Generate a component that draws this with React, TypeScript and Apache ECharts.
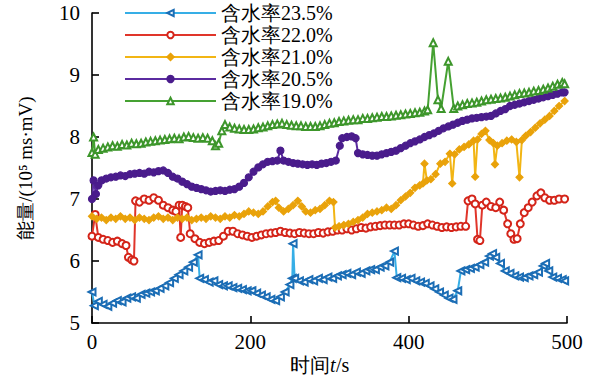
import React, { useEffect, useRef } from "react";
import * as echarts from "echarts";

const FONT = "Liberation Serif";

const seriesNames = ["含水率23.5%", "含水率22.0%", "含水率21.0%", "含水率20.5%", "含水率19.0%"];
const xTicks = [0, 200, 400, 600];
const xTickLabels = ["0", "200", "400", "500"];
const yTicks = [5, 6, 7, 8, 9, 10];
const yTickLabels = ["5", "6", "7", "8", "9", "10"];
const yAxisTitle = "能量/(10⁵ ms·mV)";
const xAxisTitle = ["时间", "t", "/s"];

const blue: number[][] = [
  [0,5.5],[3,5.28],[8,5.35],[14,5.3],[20,5.27],[26,5.32],[32,5.36],[38,5.34],[44,5.4],[50,5.42],[56,5.4],[62,5.46],[68,5.48],[74,5.5],[80,5.52],[86,5.56],[92,5.6],[98,5.65],[104,5.72],[110,5.78],[116,5.84],[122,5.9],[128,5.98],[134,6.1],[136,5.72],[142,5.7],[148,5.66],[154,5.68],[160,5.62],[166,5.6],[172,5.6],[178,5.57],[184,5.56],[190,5.54],[196,5.52],[202,5.52],[208,5.48],[214,5.45],[220,5.42],[226,5.38],[232,5.36],[238,5.42],[244,5.5],[250,5.62],[253,5.72],[254,6.28],[256,5.72],[262,5.68],[268,5.66],[274,5.7],[280,5.68],[286,5.72],[292,5.7],[298,5.74],[304,5.72],[310,5.76],[316,5.78],[322,5.8],[328,5.78],[334,5.82],[340,5.8],[346,5.84],[352,5.86],[358,5.86],[364,5.9],[370,5.92],[376,5.98],[382,6.16],[385,5.73],[391,5.72],[397,5.7],[403,5.72],[409,5.68],[415,5.66],[421,5.64],[427,5.6],[433,5.55],[439,5.5],[445,5.45],[451,5.4],[456,5.38],[462,5.52],[466,5.84],[472,5.86],[478,5.88],[484,5.9],[490,5.94],[496,5.98],[502,6.08],[506,6.12],[510,6.06],[516,5.96],[522,5.84],[528,5.8],[534,5.76],[540,5.74],[546,5.73],[552,5.76],[558,5.78],[564,5.82],[570,5.92],[573,5.96],[577,5.84],[582,5.74],[588,5.72],[594,5.7],[597,5.68]
];

const red: number[][] = [
  [0,6.4],[4,6.75],[8,6.38],[14,6.35],[20,6.33],[26,6.3],[32,6.32],[38,6.28],[43,6.25],[46,6.06],[50,6.02],[53,6.0],[55,6.97],[60,6.95],[66,7.0],[72,6.98],[78,7.02],[84,6.98],[90,6.9],[96,6.86],[102,6.82],[106,6.8],[110,6.9],[112,6.38],[114,6.9],[118,6.88],[121,6.86],[124,6.44],[130,6.36],[136,6.3],[142,6.28],[148,6.3],[154,6.32],[160,6.33],[166,6.4],[172,6.48],[178,6.48],[184,6.44],[190,6.42],[196,6.4],[202,6.38],[208,6.4],[214,6.42],[220,6.44],[226,6.45],[232,6.46],[238,6.48],[244,6.46],[250,6.45],[256,6.44],[262,6.46],[268,6.45],[274,6.44],[280,6.44],[286,6.46],[292,6.45],[298,6.47],[304,6.48],[310,6.5],[316,6.5],[322,6.52],[328,6.5],[334,6.52],[340,6.54],[346,6.53],[352,6.55],[358,6.56],[364,6.57],[370,6.58],[376,6.58],[382,6.58],[388,6.58],[394,6.6],[400,6.6],[406,6.58],[412,6.56],[418,6.57],[424,6.6],[430,6.58],[436,6.56],[442,6.54],[448,6.55],[454,6.54],[460,6.55],[466,6.56],[472,6.56],[475,6.97],[480,7.0],[484,6.92],[487,6.35],[490,6.33],[493,6.9],[498,6.95],[504,6.88],[510,6.86],[515,6.95],[520,6.82],[525,6.6],[529,6.44],[533,6.35],[537,6.36],[541,6.6],[546,6.78],[551,6.86],[556,6.95],[562,7.05],[567,7.1],[572,7.02],[578,6.98],[584,6.98],[590,7.0],[597,7.0]
];

const yellow: number[][] = [
  [0,6.72],[6,6.68],[12,6.7],[18,6.66],[24,6.7],[30,6.68],[36,6.72],[42,6.68],[48,6.7],[54,6.66],[60,6.7],[66,6.68],[72,6.66],[78,6.7],[84,6.72],[90,6.68],[96,6.7],[102,6.66],[108,6.7],[114,6.68],[120,6.7],[126,6.66],[132,6.68],[138,6.7],[144,6.68],[150,6.72],[156,6.7],[162,6.68],[168,6.72],[174,6.7],[180,6.74],[186,6.72],[192,6.76],[198,6.8],[204,6.78],[210,6.76],[216,6.8],[222,6.88],[228,6.95],[232,6.97],[236,6.86],[242,6.8],[248,6.84],[254,6.9],[260,6.97],[265,6.88],[270,6.8],[276,6.78],[282,6.82],[288,6.84],[294,6.9],[300,6.97],[305,6.95],[307,6.54],[312,6.56],[318,6.58],[324,6.6],[330,6.63],[336,6.66],[342,6.7],[348,6.76],[354,6.78],[360,6.8],[366,6.82],[372,6.86],[378,6.84],[384,6.9],[390,6.98],[396,7.04],[402,7.1],[408,7.18],[414,7.22],[418,7.25],[420,7.57],[423,7.3],[428,7.32],[434,7.4],[440,7.57],[446,7.6],[452,7.73],[455,7.25],[458,7.72],[464,7.8],[470,7.84],[476,7.88],[482,7.94],[484,7.36],[487,7.96],[492,8.05],[497,8.1],[502,7.95],[507,7.9],[509,7.56],[512,7.86],[518,7.9],[524,7.94],[530,7.96],[536,7.92],[540,7.35],[543,7.95],[548,8.02],[554,8.08],[560,8.15],[566,8.22],[572,8.28],[578,8.34],[584,8.42],[590,8.5],[597,8.58]
];

const purple: number[][] = [
  [0,7.0],[2,7.3],[5,7.08],[8,7.22],[12,7.3],[18,7.33],[24,7.35],[30,7.36],[36,7.38],[42,7.37],[48,7.4],[54,7.41],[60,7.42],[66,7.41],[72,7.44],[78,7.43],[84,7.45],[90,7.46],[96,7.42],[102,7.36],[108,7.33],[114,7.28],[120,7.24],[126,7.2],[132,7.18],[138,7.16],[144,7.14],[150,7.12],[156,7.13],[162,7.14],[168,7.13],[174,7.15],[180,7.16],[186,7.2],[192,7.26],[198,7.35],[204,7.44],[210,7.51],[216,7.56],[222,7.6],[228,7.61],[234,7.62],[238,7.78],[242,7.62],[248,7.6],[254,7.58],[260,7.57],[266,7.56],[272,7.55],[278,7.56],[284,7.55],[290,7.57],[296,7.58],[302,7.6],[308,7.62],[313,7.86],[316,7.98],[322,8.0],[328,8.01],[333,7.98],[336,7.74],[342,7.72],[348,7.71],[354,7.7],[360,7.7],[366,7.72],[372,7.74],[378,7.76],[384,7.78],[390,7.82],[396,7.86],[402,7.9],[408,7.93],[414,7.96],[420,8.0],[426,8.03],[432,8.06],[438,8.1],[444,8.14],[450,8.17],[456,8.2],[462,8.23],[468,8.26],[474,8.28],[480,8.3],[486,8.31],[492,8.32],[498,8.33],[504,8.34],[510,8.38],[516,8.42],[522,8.45],[528,8.5],[534,8.52],[540,8.54],[546,8.56],[552,8.58],[558,8.6],[564,8.62],[570,8.64],[576,8.66],[582,8.68],[588,8.7],[594,8.72],[597,8.72]
];

const green: number[][] = [
  [0,7.75],[2,8.0],[4,7.72],[8,7.8],[14,7.82],[20,7.84],[26,7.86],[32,7.85],[38,7.88],[44,7.87],[50,7.9],[56,7.89],[62,7.9],[68,7.92],[74,7.93],[80,7.94],[86,7.95],[92,7.96],[98,7.97],[104,7.98],[110,7.97],[116,8.0],[122,8.01],[128,7.99],[134,7.98],[140,7.99],[146,7.98],[152,7.94],[156,7.86],[160,7.9],[164,8.1],[168,8.2],[174,8.16],[180,8.14],[186,8.13],[192,8.12],[198,8.12],[204,8.13],[210,8.15],[216,8.16],[222,8.18],[228,8.2],[234,8.21],[240,8.22],[246,8.2],[252,8.19],[258,8.18],[264,8.18],[270,8.17],[276,8.17],[282,8.17],[288,8.18],[294,8.2],[300,8.22],[306,8.23],[312,8.25],[318,8.26],[324,8.27],[330,8.28],[336,8.28],[342,8.3],[348,8.3],[354,8.31],[360,8.32],[366,8.33],[372,8.33],[378,8.34],[384,8.35],[390,8.36],[396,8.37],[402,8.38],[408,8.39],[414,8.4],[420,8.42],[424,8.44],[431,9.52],[437,8.6],[441,8.46],[450,9.22],[457,8.46],[462,8.5],[468,8.52],[474,8.54],[480,8.55],[486,8.56],[492,8.58],[498,8.6],[504,8.61],[510,8.62],[516,8.63],[522,8.64],[528,8.66],[534,8.68],[540,8.7],[546,8.71],[552,8.72],[558,8.74],[564,8.75],[570,8.77],[576,8.79],[582,8.82],[588,8.85],[594,8.88],[597,8.86]
];

const seriesData = [blue, red, yellow, purple, green];
const lineColors = ["#36aee6", "#e0352a", "#f2b514", "#5b2ba0", "#45a132"];
const markerColors = ["#1b6db5", "#d42419", "#e9a20a", "#4a1c8c", "#3d962b"];
const symbols = ["emptyTriangle", "emptyCircle", "diamond", "circle", "emptyTriangle"];
const symbolRotates = [90, 0, 0, 0, 0];

export default function App() {
  const ref = useRef<HTMLDivElement>(null);
  useEffect(() => {
    document.body.style.margin = "0";
    if (!ref.current) return;
    const chart = echarts.init(ref.current, null, { renderer: "svg" });
    const axisLineStyle = { color: "#000", width: 1.6 };
    chart.setOption({
      animation: false,
      backgroundColor: "#fff",
      grid: { left: 92, right: 23, top: 13, bottom: 55, containLabel: false, outerBoundsMode: "none" },
      legend: {
        orient: "vertical",
        left: 124,
        top: 3,
        padding: 0,
        itemWidth: 91,
        itemHeight: 8,
        itemGap: 2,
        selectedMode: false,
        data: seriesNames,
        textStyle: { fontFamily: FONT, fontSize: 20, color: "#000", lineHeight: 20 },
      },
      xAxis: {
        type: "value",
        min: 0,
        max: 600,
        interval: 200,
        axisLine: { show: true, onZero: false, lineStyle: axisLineStyle },
        axisTick: { show: true, inside: true, length: 7, lineStyle: axisLineStyle },
        splitLine: { show: false },
        axisLabel: { show: false },
      },
      yAxis: {
        type: "value",
        min: 5,
        max: 10,
        interval: 1,
        axisLine: { show: true, lineStyle: axisLineStyle },
        axisTick: { show: true, inside: true, length: 7, lineStyle: axisLineStyle },
        splitLine: { show: false },
        axisLabel: { show: false },
      },
      series: seriesNames.map((name, i) => ({
        name,
        type: "line",
        data: seriesData[i],
        symbol: symbols[i],
        symbolRotate: symbolRotates[i],
        symbolSize: 7,
        showSymbol: true,
        showAllSymbol: true,
        lineStyle: { color: lineColors[i], width: 2 },
        itemStyle: { color: markerColors[i], borderColor: markerColors[i], borderWidth: 1.2 },
        z: 2 + i,
      })),
    });

    const txt = (text: string, x: number, y: number, align: string, vAlign: string, extra: any = {}) => ({
      type: "text",
      x,
      y,
      z: 100,
      style: {
        text,
        fontFamily: FONT,
        fontSize: 21,
        fill: "#000",
        align,
        verticalAlign: vAlign,
        ...extra,
      },
    });

    const graphics: any[] = [];
    const axisY = chart.convertToPixel({ yAxisIndex: 0 }, 5) as number;
    const axisX = chart.convertToPixel({ xAxisIndex: 0 }, 0) as number;
    xTicks.forEach((v, i) => {
      const px = chart.convertToPixel({ xAxisIndex: 0 }, v) as number;
      graphics.push(txt(xTickLabels[i], px, axisY + 8, "center", "top"));
    });
    yTicks.forEach((v, i) => {
      const py = chart.convertToPixel({ yAxisIndex: 0 }, v) as number;
      graphics.push(txt(yTickLabels[i], axisX - 12, py, "right", "middle"));
    });
    const xNameX = 290;
    const xNameY = axisY + 42;
    graphics.push(txt(xAxisTitle[0], xNameX, xNameY, "left", "middle", { fontSize: 20 }));
    graphics.push(txt(xAxisTitle[1], xNameX + 40, xNameY, "left", "middle", { fontSize: 20, fontStyle: "italic" }));
    graphics.push(txt(xAxisTitle[2], xNameX + 46, xNameY, "left", "middle", { fontSize: 20 }));
    const yTop = chart.convertToPixel({ yAxisIndex: 0 }, 10) as number;
    graphics.push({
      ...txt(yAxisTitle, axisX - 67, (axisY + yTop) / 2, "center", "middle", { fontSize: 19 }),
      rotation: Math.PI / 2,
    });
    chart.setOption({ graphic: graphics });
    return () => chart.dispose();
  }, []);
  return <div ref={ref} style={{ width: 590, height: 378 }} />;
}
